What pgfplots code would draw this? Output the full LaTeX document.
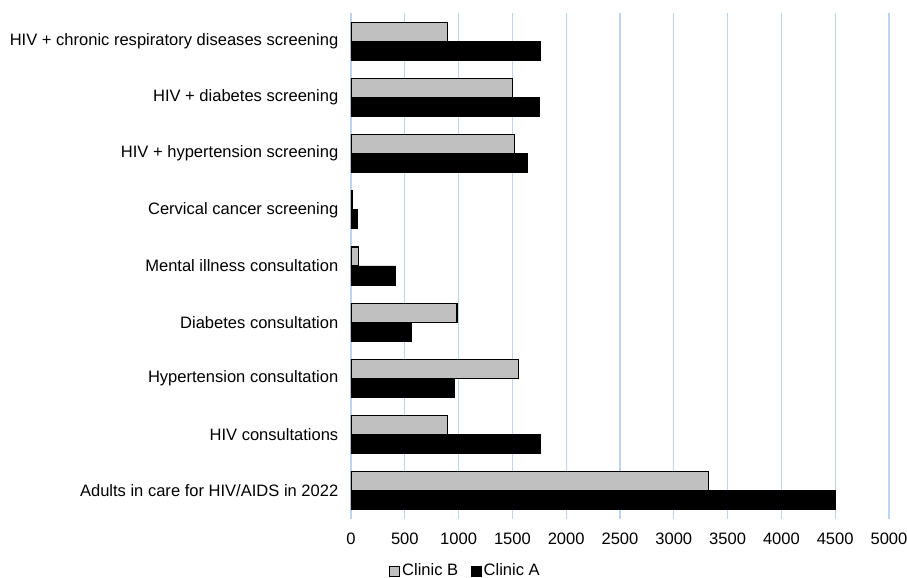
\documentclass[border=0pt]{standalone}
\usepackage{pgfplots}
\pgfplotsset{compat=1.18}
\usepackage{fontspec}
\setmainfont{Liberation Sans}
\definecolor{gridblue}{RGB}{190,212,238}
\definecolor{barB}{RGB}{192,192,192}
\begin{document}
\begin{tikzpicture}[font=\fontsize{12.4pt}{14pt}\selectfont]
\begin{axis}[
  scale only axis,
  width=403.5pt, height=379.5pt,
  xbar=0pt, bar width=14.25pt,
  xmin=0, xmax=5000,
  ymin=-0.5, ymax=8.5,
  xtick={0,500,...,5000},
  ytick={0,...,8},
  yticklabels={Adults in care for HIV/AIDS in 2022, HIV consultations, Hypertension consultation, Diabetes consultation, Mental illness consultation, Cervical cancer screening, HIV + hypertension screening, HIV + diabetes screening, HIV + chronic respiratory diseases screening},
  axis line style={draw=none},
  major tick length=0pt,
  xmajorgrids, grid style={gridblue, line width=1pt},
  /pgf/number format/assume math mode=true,
  scaled x ticks=false,
  xticklabel style={/pgf/number format/1000 sep={}, yshift=-7pt},
  yticklabel style={xshift=-6pt},
  reverse legend,
  legend columns=2,
  legend style={draw=none, inner sep=0pt, font=\fontsize{12.4pt}{14pt}\selectfont, at={(0.213,-0.1025)}, anchor=center, /tikz/every even column/.append style={column sep=8pt}, nodes={inner sep=1.5pt}},
  legend image code/.code={\draw[#1, line width=0.6pt] (1pt,-4pt) rectangle (8.5pt,3.5pt);},
]
\addplot[fill=black, draw=black, line width=0.6pt] coordinates {(4500,0) (1760,1) (960,2) (560,3) (410,4) (60,5) (1640,6) (1750,7) (1760,8)};
\addplot[fill=barB, draw=black, line width=0.8pt] coordinates {(3320,0) (900,1) (1560,2) (985,3) (70,4) (15,5) (1520,6) (1500,7) (900,8)};
\legend{Clinic A, Clinic B}
\end{axis}
\pgfresetboundingbox
\path (-263.25pt,-44.25pt) rectangle (417pt,389.25pt);
\end{tikzpicture}
\end{document}
